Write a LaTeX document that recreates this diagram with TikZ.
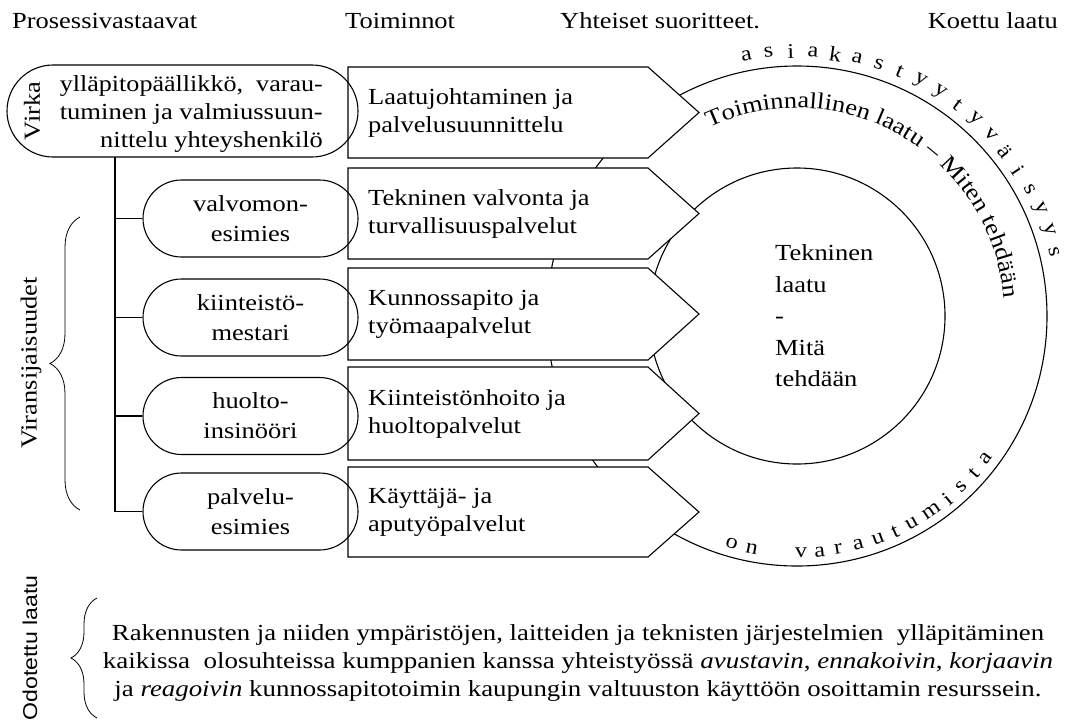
\documentclass[tikz,border=0pt]{standalone}
\usepackage{fontspec}
\setmainfont{Liberation Serif}[FakeStretch=1.15]
\newfontfamily\sansf{Liberation Sans}
\usepackage{graphicx}
\usetikzlibrary{shapes.misc,decorations.pathreplacing,decorations.text}
\newcommand{\fitw}[2]{\resizebox{#1}{\height}{#2}}
\begin{document}
\begin{tikzpicture}[x=1pt,y=1pt,
  every node/.style={font=\fontsize{23}{28}\selectfont, inner sep=0pt},
  ln/.style={line width=1.1pt, draw=black},
  abox/.style={ln, fill=white},
  rbox/.style={ln, rounded rectangle, minimum width=215pt, minimum height=77pt, align=center, font=\fontsize{23}{30}\selectfont},
  ftxt/.style={anchor=west, align=left},
  brc/.style={line width=0.8pt, draw=black, decorate},
  arcl/.style={font=\fontsize{21}{24}\selectfont}
]
\useasboundingbox (0,0) rectangle (1068,-724);

% headers
\node[anchor=base west] (h1) at (12,-28) {Prosessivastaavat};
\node[anchor=base west] (h2) at (345,-28) {Toiminnot};
\node[anchor=base west] (h3) at (560,-28) {Yhteiset suoritteet.};
\node[anchor=base east] (h4) at (1058,-28) {Koettu laatu};

% circles
\coordinate (c) at (797,-316);
\draw[ln] (c) circle[radius=250];
\draw[ln] (c) circle[radius=148];

% arrow boxes
\foreach \t/\b in {67/158, 168/259, 268/360, 367/460, 467/557} {
  \draw[abox] (348,-\t) -- (648,-\t) -- (699,{-(\t+\b)/2}) -- (648,-\b) -- (348,-\b) -- cycle;
}
\node[ftxt] (f1) at (368,-112.5) {Laatujohtaminen ja\\palvelusuunnittelu};
\node[ftxt] (f2) at (368,-213.5) {Tekninen valvonta ja\\turvallisuuspalvelut};
\node[ftxt] (f3) at (368,-314) {Kunnossapito ja\\työmaapalvelut};
\node[ftxt] (f4) at (368,-413.5) {Kiinteistönhoito ja\\huoltopalvelut};
\node[ftxt] (f5) at (368,-512) {Käyttäjä- ja\\aputyöpalvelut};

% Virka box
\node[ln, rounded rectangle, minimum width=351pt, minimum height=92pt] (virka) at (182.5,-111) {};
\node[rotate=90] (virkalbl) at (32,-111) {Virka};
\node[anchor=east, align=right] (virkatxt) at (323,-114)
  {\fitw{263pt}{ylläpitopäällikkö,\ \ varau-}\\\fitw{263pt}{tuminen ja valmiussuun-}\\nittelu yhteyshenkilö};

% substitute boxes
\node[rbox] (r1) at (250.5,-218.5) {valvomon-\\esimies};
\node[rbox] (r2) at (250.5,-317.5) {kiinteistö-\\mestari};
\node[rbox] (r3) at (250.5,-416) {huolto-\\insinööri};
\node[rbox] (r4) at (250.5,-511.5) {palvelu-\\esimies};

% tree
\coordinate (trunk) at (115,-157);
\draw[ln] (trunk) |- (r4.west);
\foreach \r in {r1,r2,r3} \draw[ln] (\r.west) -- (\r.west -| trunk);

% braces and side labels
\draw[brc, decoration={brace, amplitude=30pt}] (80,-510) -- (80,-217);
\node[rotate=90] (vlbl) at (31,-363) {Viransijaisuudet};
\draw[brc, decoration={brace, amplitude=26pt}] (97,-718) -- (97,-598);
\node[rotate=90] (olbl) at (30,-648) {\fitw{145pt}{\sansf\fontsize{20}{24}\selectfont Odotettu laatu}};

% centre text
\node[anchor=west, align=left, font=\fontsize{23}{31.5}\selectfont] (tek) at (775,-316) {Tekninen\\laatu\\-\\Mitä\\tehdään};

% text along inner side of the outer circle
\path[decorate, decoration={text along path, text={|\fontsize{23}{27}\selectfont|Toiminnallinen laatu – Miten tehdään}, text align={left}}]
  (709.1,-127.5) arc[start angle=115, end angle=0, radius=208];

% asiakastyytyväisyys
\foreach \ch [count=\i] in {a,s,i,a,k,a,s,t,y,y,t,y,v,ä,i,s,y,y,s} {
  \pgfmathsetmacro{\ang}{101-(\i-1)*4.83}
  \path (c) ++(\ang:265) node[arcl, rotate=\ang-90] (as\i) {\ch};
}

% on varautumista
\foreach \a/\ch [count=\i] in {-106/o, -101/n, -89/v, -84.5/a, -80/r, -75/a, -70/u, -65.5/t, -61/u, -55.5/m, -50.5/i, -46/s, -41.5/t, -37/a} {
  \path (c) ++(\a:237) node[arcl, rotate=\a+90] (va\i) {\ch};
}

% expected quality text
\node[align=center] (odot) at (578,-663)
  {\fitw{932pt}{Rakennusten ja niiden ympäristöjen, laitteiden ja teknisten järjestelmien\ \ ylläpitäminen}\\
   \fitw{950pt}{kaikissa\ \ olosuhteissa kumppanien kanssa yhteistyössä \textit{avustavin}, \textit{ennakoivin}, \textit{korjaavin}}\\
   \fitw{927pt}{ja \textit{reagoivin} kunnossapitotoimin kaupungin valtuuston käyttöön osoittamin resurssein.}};
\end{tikzpicture}
\end{document}
